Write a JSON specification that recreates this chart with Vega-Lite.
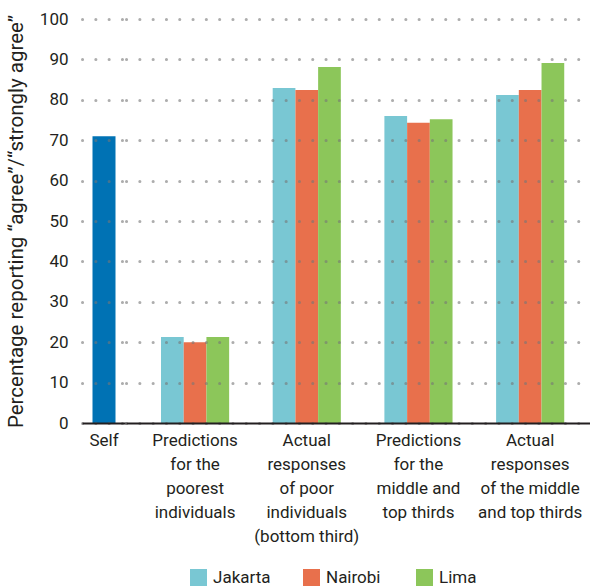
{
  "$schema": "https://vega.github.io/schema/vega-lite/v6.json",
  "background": "white",
  "padding": {"left": 6, "right": 0, "top": 10, "bottom": 0},
  "spacing": 0,
  "datasets": {
    "self": [
      {"category": "Self", "value": 71}
    ],
    "groups": [
      {"category": "Predictions for the poorest individuals", "city": "Jakarta", "value": 21.3},
      {"category": "Predictions for the poorest individuals", "city": "Nairobi", "value": 20.0},
      {"category": "Predictions for the poorest individuals", "city": "Lima", "value": 21.3},
      {"category": "Actual responses of poor individuals (bottom third)", "city": "Jakarta", "value": 82.9},
      {"category": "Actual responses of poor individuals (bottom third)", "city": "Nairobi", "value": 82.4},
      {"category": "Actual responses of poor individuals (bottom third)", "city": "Lima", "value": 88.1},
      {"category": "Predictions for the middle and top thirds", "city": "Jakarta", "value": 76.0},
      {"category": "Predictions for the middle and top thirds", "city": "Nairobi", "value": 74.3},
      {"category": "Predictions for the middle and top thirds", "city": "Lima", "value": 75.2},
      {"category": "Actual responses of the middle and top thirds", "city": "Jakarta", "value": 81.2},
      {"category": "Actual responses of the middle and top thirds", "city": "Nairobi", "value": 82.4},
      {"category": "Actual responses of the middle and top thirds", "city": "Lima", "value": 89.1}
    ]
  },
  "config": {
    "font": "Roboto",
    "view": {"stroke": null},
    "axis": {
      "labelFont": "Roboto",
      "labelFontSize": 17,
      "labelColor": "#231f20",
      "titleFont": "Roboto",
      "titleFontSize": 20.5,
      "titleFontWeight": "normal",
      "titleColor": "#231f20",
      "ticks": false,
      "domain": false
    },
    "legend": {
      "labelFont": "Roboto",
      "labelFontSize": 17,
      "labelColor": "#231f20"
    }
  },
  "hconcat": [
    {
      "width": 44,
      "height": 404,
      "data": {"name": "self"},
      "mark": {"type": "bar", "width": 23, "color": "#0072b4"},
      "encoding": {
        "x": {
          "field": "category",
          "type": "nominal",
          "axis": {
            "title": null,
            "labelAngle": 0,
            "labelPadding": 9,
            "labelLineHeight": 24,
            "domain": true,
            "domainColor": "#231f20",
            "domainWidth": 2,
            "zindex": 1
          }
        },
        "y": {
          "field": "value",
          "type": "quantitative",
          "scale": {"domain": [0, 100], "nice": false},
          "axis": {
            "title": "Percentage reporting “agree”/“strongly agree”",
            "values": [0, 10, 20, 30, 40, 50, 60, 70, 80, 90, 100],
            "labelPadding": 14,
            "titlePadding": 13,
            "grid": true,
            "gridColor": "#777777",
            "gridOpacity": 0.6,
            "gridDash": [0.1, 13.2],
            "gridCap": "round",
            "gridWidth": 3,
            "zindex": 1
          }
        }
      }
    },
    {
      "width": 464,
      "height": 404,
      "data": {"name": "groups"},
      "mark": {"type": "bar"},
      "encoding": {
        "x": {
          "field": "category",
          "type": "nominal",
          "sort": null,
          "scale": {"paddingInner": 0.39, "paddingOuter": 0.272, "align": 0.576},
          "axis": {
            "title": null,
            "labelAngle": 0,
            "labelPadding": 9,
            "labelLineHeight": 24,
            "labelLimit": 0,
            "domain": true,
            "domainColor": "#231f20",
            "domainWidth": 2,
            "zindex": 1,
            "labelExpr": "datum.value == 'Predictions for the poorest individuals' ? ['Predictions', 'for the', 'poorest', 'individuals'] : datum.value == 'Actual responses of poor individuals (bottom third)' ? ['Actual', 'responses', 'of poor', 'individuals', '(bottom third)'] : datum.value == 'Predictions for the middle and top thirds' ? ['Predictions', 'for the', 'middle and', 'top thirds'] : ['Actual', 'responses', 'of the middle', 'and top thirds']"
          }
        },
        "xOffset": {
          "field": "city",
          "type": "nominal",
          "scale": {"domain": ["Jakarta", "Nairobi", "Lima"]}
        },
        "y": {
          "field": "value",
          "type": "quantitative",
          "scale": {"domain": [0, 100], "nice": false},
          "axis": {
            "title": null,
            "labels": false,
            "values": [0, 10, 20, 30, 40, 50, 60, 70, 80, 90, 100],
            "grid": true,
            "gridColor": "#777777",
            "gridOpacity": 0.6,
            "gridDash": [0.1, 13.2],
            "gridCap": "round",
            "gridWidth": 3,
            "zindex": 1
          }
        },
        "color": {
          "field": "city",
          "type": "nominal",
          "scale": {"domain": ["Jakarta", "Nairobi", "Lima"], "range": ["#79c7d3", "#e8704c", "#8cc65a"]},
          "legend": {
            "title": null,
            "orient": "none",
            "legendX": 108,
            "legendY": 550,
            "direction": "horizontal",
            "gridAlign": "all",
            "symbolType": "square",
            "symbolSize": 289,
            "symbolStrokeWidth": 0,
            "symbolOpacity": 1,
            "columnPadding": 32,
            "labelOffset": 6
          }
        }
      }
    }
  ]
}
